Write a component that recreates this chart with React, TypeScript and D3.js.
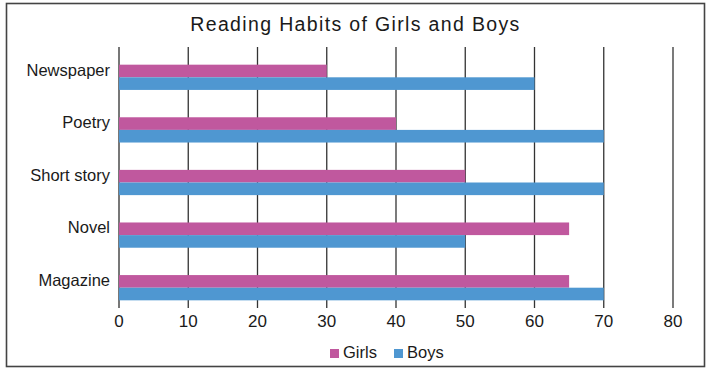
import React from 'react';
import * as d3 from 'd3';

// chart data
const categories = ['Newspaper', 'Poetry', 'Short story', 'Novel', 'Magazine'];
const girls = [30, 40, 50, 65, 65];
const boys = [60, 70, 70, 50, 70];
const ticks = [0, 10, 20, 30, 40, 50, 60, 70, 80];
const seriesNames = ['Girls', 'Boys'];
const seriesColors = ['#c0589e', '#4f97d1'];

const W = 712;
const H = 370;
const FONT = 'Liberation Sans, Arial, sans-serif';

const App = () => {
  const x = d3.scaleLinear().domain([0, 80]).range([119, 673]);
  const y = d3.scaleBand().domain(categories).range([51, 314]).paddingInner(0.52).paddingOuter(0.26);
  const sub = d3.scaleBand().domain(seriesNames).range([0, y.bandwidth()]);
  const series = [girls, boys];

  const gridTop = 47;
  const gridBottom = 308;

  return (
    <svg width={W} height={H} style={{ position: 'absolute', left: 0, top: 0 }} fontFamily={FONT}>
      <rect x={0} y={0} width={W} height={H} fill="#fff" />
      <rect x={6.5} y={3.5} width={698} height={363} fill="none" stroke="#444" strokeWidth={1.6} />

      <text x={355.5} y={31} textAnchor="middle" fontSize={19.5} letterSpacing={1.35} fill="#1a1a1a">
        Reading Habits of Girls and Boys
      </text>

      {/* vertical grid */}
      {ticks.map((t) => (
        <line
          key={t}
          x1={x(t)}
          x2={x(t)}
          y1={gridTop}
          y2={gridBottom}
          stroke={t === 0 ? '#777' : '#333'}
          strokeWidth={t === 0 ? 2 : 1.3}
        />
      ))}

      {/* bars */}
      {categories.map((c, i) => (
        <g key={c}>
          {series.map((vals, s) => (
            <rect
              key={s}
              x={x(0)}
              y={(y(c) as number) + (sub(seriesNames[s]) as number)}
              width={x(vals[i]) - x(0)}
              height={sub.bandwidth()}
              fill={seriesColors[s]}
            />
          ))}
          <text
            x={110}
            y={(y(c) as number) + y.bandwidth() / 2}
            dy="-0.1em"
            textAnchor="end"
            fontSize={16.5}
            fill="#1a1a1a"
          >
            {c}
          </text>
        </g>
      ))}

      {/* tick labels */}
      {ticks.map((t) => (
        <text key={t} x={x(t)} y={327} textAnchor="middle" fontSize={17} fill="#1a1a1a">
          {t}
        </text>
      ))}

      {/* legend */}
      {seriesNames.map((n, i) => {
        const lx = [330, 394][i];
        return (
          <g key={n}>
            <rect x={lx} y={349} width={9} height={9} fill={seriesColors[i]} />
            <text x={lx + 13} y={358} fontSize={16.5} fill="#1a1a1a">
              {n}
            </text>
          </g>
        );
      })}
    </svg>
  );
};

export default App;
